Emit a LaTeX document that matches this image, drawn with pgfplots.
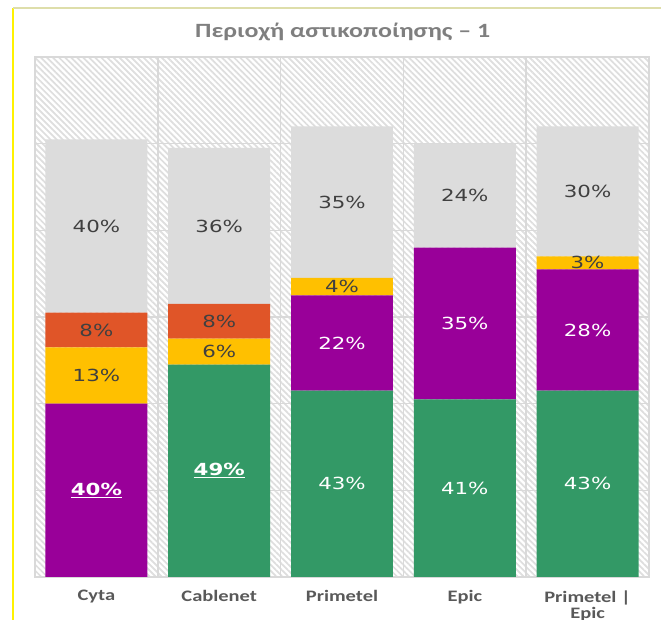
\documentclass[border=0pt]{standalone}
\usepackage{pgfplots}
\pgfplotsset{compat=1.18}
\usepackage{pgfplotstable}
\usetikzlibrary{patterns.meta}
\usepackage{graphicx}
\usepackage{fontspec}
\setmainfont{Carlito}
\newfontfamily\numfont{DejaVu Sans}

\definecolor{cgreen}{HTML}{339966}
\definecolor{cpurple}{HTML}{990099}
\definecolor{cyellow}{HTML}{FFC000}
\definecolor{corange}{HTML}{E05528}
\definecolor{cgrey}{HTML}{DCDCDC}
\definecolor{cdark}{HTML}{404040}
\definecolor{ctitle}{HTML}{7F7F7F}
\definecolor{ccat}{HTML}{595959}
\definecolor{cgrid}{HTML}{D9D9D9}
\definecolor{ctop}{HTML}{DEDEAA}

\newcommand{\sx}[1]{\scalebox{1.28}[1]{#1}}
\newcommand{\num}[1]{\sx{\numfont\fontsize{12.5}{15}\selectfont #1}}
\newcommand{\cat}[1]{\sx{#1}}

\pgfplotstableread{
x green purple yellow orange grey
0 0  40 13 8 40
1 49 0  6  8 36
2 43 22 4  0 35
3 41 35 0  0 24
4 43 28 3  0 30
}\datatable

\begin{document}
\begin{tikzpicture}
\useasboundingbox (0pt,0pt) rectangle (495.75pt,465pt);
\draw[color=yellow, line width=1.5pt] (9.75pt,0pt) -- (9.75pt,459pt);
\draw[color=ctop, line width=1.2pt] (9.75pt,459pt) -- (495.75pt,459pt);
\node[font=\bfseries\fontsize{15.2}{17}\selectfont, text=ctitle] at (257pt,441pt) {\sx{Περιοχή αστικοποίησης – 1}};
\begin{axis}[
  at={(26.25pt,32.25pt)}, anchor=south west,
  scale only axis, width=460.5pt, height=390pt,
  ybar stacked, bar width=0.83,
  xmin=-0.5, xmax=4.5, ymin=0, ymax=120,
  ytick={0,20,...,120}, yticklabels={},
  xtick={0,1,2,3,4},
  minor xtick={0.5,1.5,2.5,3.5},
  xticklabels={{\cat{Cyta}},{\cat{Cablenet}},{\cat{Primetel}},{\cat{Epic}},{\cat{Primetel |}\\[-1.5pt]\cat{Epic}}},
  xticklabel style={font=\bfseries\fontsize{12}{13.5}\selectfont, text=ccat, align=center, inner sep=0.5pt, yshift=-9.3pt},
  ymajorgrids, xminorgrids,
  major tick length=0pt, minor tick length=0pt,
  grid style={cgrid, line width=1.1pt},
  minor grid style={cgrid, line width=1.1pt},
  axis line style={cgrid, line width=1.1pt},
  axis background/.style={fill=white, postaction={pattern={Lines[angle=-45,distance=3.2pt,line width=1.3pt]}, pattern color=black!13}},
  every axis plot/.append style={draw=none},
  clip=false,
]
\addplot[fill=cgreen] table[x=x,y=green] {\datatable};
\addplot[fill=cpurple] table[x=x,y=purple] {\datatable};
\addplot[fill=cyellow] table[x=x,y=yellow] {\datatable};
\addplot[fill=corange] table[x=x,y=orange] {\datatable};
\addplot[fill=cgrey] table[x=x,y=grey] {\datatable};

\coordinate (a1) at (axis cs:0,20);
\coordinate (a2) at (axis cs:0,46.5);
\coordinate (a3) at (axis cs:0,57);
\coordinate (a4) at (axis cs:0,81);
\coordinate (b1) at (axis cs:1,24.5);
\coordinate (b2) at (axis cs:1,52);
\coordinate (b3) at (axis cs:1,59);
\coordinate (b4) at (axis cs:1,81);
\coordinate (c1) at (axis cs:2,21.5);
\coordinate (c2) at (axis cs:2,54);
\coordinate (c3) at (axis cs:2,67);
\coordinate (c4) at (axis cs:2,86.5);
\coordinate (d1) at (axis cs:3,20.5);
\coordinate (d2) at (axis cs:3,58.5);
\coordinate (d3) at (axis cs:3,88);
\coordinate (e1) at (axis cs:4,21.5);
\coordinate (e2) at (axis cs:4,57);
\coordinate (e3) at (axis cs:4,72.5);
\coordinate (e4) at (axis cs:4,89);
\end{axis}
% Cyta
\node[text=white] at (a1) {\num{\bfseries\underline{40\%}}};
\node[text=cdark] at (a2) {\num{13\%}};
\node[text=cdark] at (a3) {\num{8\%}};
\node[text=cdark] at (a4) {\num{40\%}};
% Cablenet
\node[text=white] at (b1) {\num{\bfseries\underline{49\%}}};
\node[text=cdark] at (b2) {\num{6\%}};
\node[text=cdark] at (b3) {\num{8\%}};
\node[text=cdark] at (b4) {\num{36\%}};
% Primetel
\node[text=white] at (c1) {\num{43\%}};
\node[text=white] at (c2) {\num{22\%}};
\node[text=cdark] at (c3) {\num{4\%}};
\node[text=cdark] at (c4) {\num{35\%}};
% Epic
\node[text=white] at (d1) {\num{41\%}};
\node[text=white] at (d2) {\num{35\%}};
\node[text=cdark] at (d3) {\num{24\%}};
% Primetel | Epic
\node[text=white] at (e1) {\num{43\%}};
\node[text=white] at (e2) {\num{28\%}};
\node[text=cdark] at (e3) {\num{3\%}};
\node[text=cdark] at (e4) {\num{30\%}};
\end{tikzpicture}
\end{document}
